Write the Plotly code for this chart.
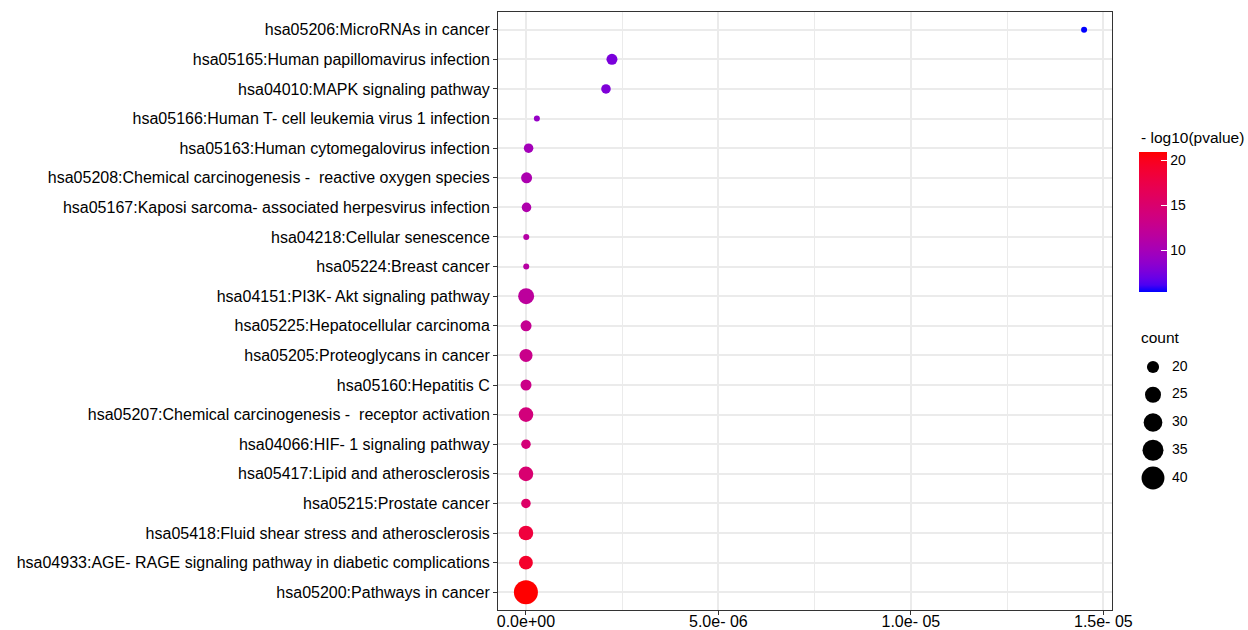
import numpy as np
import plotly.graph_objects as go

# ---------------- data ----------------
terms = [
    "hsa05206:MicroRNAs in cancer",
    "hsa05165:Human papillomavirus infection",
    "hsa04010:MAPK signaling pathway",
    "hsa05166:Human T- cell leukemia virus 1 infection",
    "hsa05163:Human cytomegalovirus infection",
    "hsa05208:Chemical carcinogenesis -  reactive oxygen species",
    "hsa05167:Kaposi sarcoma- associated herpesvirus infection",
    "hsa04218:Cellular senescence",
    "hsa05224:Breast cancer",
    "hsa04151:PI3K- Akt signaling pathway",
    "hsa05225:Hepatocellular carcinoma",
    "hsa05205:Proteoglycans in cancer",
    "hsa05160:Hepatitis C",
    "hsa05207:Chemical carcinogenesis -  receptor activation",
    "hsa04066:HIF- 1 signaling pathway",
    "hsa05417:Lipid and atherosclerosis",
    "hsa05215:Prostate cancer",
    "hsa05418:Fluid shear stress and atherosclerosis",
    "hsa04933:AGE- RAGE signaling pathway in diabetic complications",
    "hsa05200:Pathways in cancer",
]
padj = [1.45e-5, 2.235e-6, 2.08e-6, 2.85e-7, 7.0e-8, 1.8e-8, 1.6e-8, 9e-9, 8e-9, 6e-9,
        4e-9, 3e-9, 2.5e-9, 2e-9, 1.5e-9, 1e-9, 8e-10, 3e-10, 1e-10, 5e-12]
neglog10p = [5.33, 7.6, 7.8, 9.0, 9.9, 10.5, 10.7, 11.2, 11.3, 11.8,
             12.5, 13.0, 13.2, 14.0, 14.3, 14.8, 15.4, 18.2, 19.2, 20.9]
counts = [17, 19, 18, 17, 18, 19, 18, 17, 17, 25,
          19, 21, 19, 23, 18, 23, 18, 23, 22, 43]

x_tickvals = [0, 5e-6, 1e-5, 1.5e-5]
x_ticktext = ["0.0e+00", "5.0e- 06", "1.0e- 05", "1.5e- 05"]
color_ticks = [10, 15, 20]
size_breaks = [20, 25, 30, 35, 40]

# ---------------- helpers ----------------
def srgb_to_lab(rgb):
    c = np.array(rgb, float) / 255.0
    c = np.where(c <= 0.04045, c / 12.92, ((c + 0.055) / 1.055) ** 2.4)
    M = np.array([[0.4124, 0.3576, 0.1805], [0.2126, 0.7152, 0.0722], [0.0193, 0.1192, 0.9505]])
    X, Y, Z = M @ c
    X /= 0.95047; Z /= 1.08883
    f = lambda t: t ** (1 / 3) if t > 0.008856 else 7.787 * t + 16 / 116
    fx, fy, fz = f(X), f(Y), f(Z)
    return np.array([116 * fy - 16, 500 * (fx - fy), 200 * (fy - fz)])

def lab_to_srgb(lab):
    L, a, b = lab
    fy = (L + 16) / 116; fx = fy + a / 500; fz = fy - b / 200
    finv = lambda t: t ** 3 if t ** 3 > 0.008856 else (t - 16 / 116) / 7.787
    X = 0.95047 * finv(fx); Y = finv(fy); Z = 1.08883 * finv(fz)
    Minv = np.array([[3.2406, -1.5372, -0.4986], [-0.9689, 1.8758, 0.0415], [0.0557, -0.2040, 1.0570]])
    lin = Minv @ np.array([X, Y, Z])
    out = np.where(lin <= 0.0031308, 12.92 * lin, 1.055 * np.clip(lin, 0, None) ** (1 / 2.4) - 0.055)
    out = np.clip(out, 0, 1) * 255
    return "rgb(%d,%d,%d)" % tuple(np.round(out).astype(int))

lab_lo = srgb_to_lab((0, 0, 255))
lab_hi = srgb_to_lab((255, 0, 0))
colorscale = [[t, lab_to_srgb(lab_lo + (lab_hi - lab_lo) * t)] for t in np.linspace(0, 1, 21)]

cmin_c, cmax_c = min(counts), max(counts)
def diam(c):
    t = (np.asarray(c, float) - cmin_c) / (cmax_c - cmin_c)
    return 6 + 18 * np.sqrt(np.clip(t, 0, 1))

labels = [t.replace("  ", " \u00a0") for t in terms]

FONT = "Liberation Sans, Arial, Helvetica, sans-serif"
W, H = 1248, 630
panel_left, panel_right, panel_top, panel_bottom = 498, 1112, 12, 610
L_M = panel_left
T_M = panel_top
B_M = H - panel_bottom
R_M = 0
pw = W - L_M - R_M
ph = H - T_M - B_M
def px_x(p):
    return (p - L_M) / pw
def px_y(p):
    return (H - B_M - p) / ph

xmin, xmax = min(padj), max(padj)
span = xmax - xmin
x_range = [xmin - 0.05 * span, xmax + 0.05 * span]

fig = go.Figure()
fig.add_trace(go.Scatter(
    x=padj, y=labels, mode="markers",
    marker=dict(
        size=diam(counts), color=neglog10p, colorscale=colorscale,
        cmin=min(neglog10p), cmax=max(neglog10p), line=dict(width=0), opacity=1,
        showscale=True,
        colorbar=dict(
            x=px_x(1139), xanchor="left", xpad=0, ypad=0,
            y=px_y(152), yanchor="top", len=140, lenmode="pixels",
            thickness=28, thicknessmode="pixels", outlinewidth=0,
            tickvals=color_ticks, ticks="inside", ticklen=6, tickcolor="white", tickwidth=1,
            tickfont=dict(family=FONT, size=14, color="black"),
            title=dict(text=""),
        ),
    ),
    showlegend=False, hoverinfo="skip",
))

# size legend on hidden axes
fig.add_trace(go.Scatter(
    x=[14] * len(size_breaks), y=list(range(len(size_breaks))), mode="markers",
    marker=dict(size=diam(size_breaks), color="black", opacity=1, line=dict(width=0)),
    xaxis="x2", yaxis="y2", showlegend=False, hoverinfo="skip",
))
fig.add_trace(go.Scatter(
    x=[33] * len(size_breaks), y=list(range(len(size_breaks))), mode="text",
    text=[str(s) for s in size_breaks], textposition="middle right",
    textfont=dict(family=FONT, size=14, color="black"),
    xaxis="x2", yaxis="y2", showlegend=False, hoverinfo="skip",
))

grid_c = "#EBEBEB"
fig.update_layout(
    template="none",
    width=W, height=H,
    margin=dict(l=L_M, r=R_M, t=T_M, b=B_M, autoexpand=False),
    paper_bgcolor="white", plot_bgcolor="white",
    font=dict(family=FONT, size=16, color="black"),
    xaxis=dict(
        domain=[0, px_x(panel_right)], range=x_range, automargin=False,
        tickvals=x_tickvals, ticktext=x_ticktext,
        ticks="outside", ticklen=4, tickcolor="#333333", tickwidth=1,
        ticklabelstandoff=-7,
        tickfont=dict(family=FONT, size=16, color="black"),
        showgrid=True, gridcolor=grid_c, gridwidth=1.6,
        minor=dict(tick0=2.5e-6, dtick=5e-6, showgrid=True, gridcolor=grid_c, gridwidth=0.9, ticks=""),
        showline=True, mirror=True, linecolor="#333333", linewidth=1,
        zeroline=False, anchor="y",
    ),
    yaxis=dict(
        type="category", categoryorder="array", categoryarray=labels,
        range=[len(labels) - 0.4, -0.6], automargin=False,
        ticks="outside", ticklen=4, tickcolor="#333333", tickwidth=1,
        tickfont=dict(family=FONT, size=16, color="black"),
        showgrid=True, gridcolor=grid_c, gridwidth=1.6,
        showline=True, mirror=True, linecolor="#333333", linewidth=1,
        zeroline=False, anchor="x",
    ),
    xaxis2=dict(domain=[px_x(1139), px_x(1239)], range=[0, 100], visible=False, anchor="y2"),
    yaxis2=dict(domain=[px_y(490), px_y(355)], range=[4.432, -0.432], visible=False, anchor="x2"),
    annotations=[
        dict(text="- log10(pvalue)", x=px_x(1139), y=px_y(137), xref="paper", yref="paper",
             xanchor="left", yanchor="middle", showarrow=False,
             font=dict(family=FONT, size=15.5, color="black")),
        dict(text="count", x=px_x(1139), y=px_y(337), xref="paper", yref="paper",
             xanchor="left", yanchor="middle", showarrow=False,
             font=dict(family=FONT, size=15.5, color="black")),
    ],
)

fig.write_html(
    "out.html",
    config={"displayModeBar": False},
    post_script="document.body.style.margin='0px';document.body.style.overflow='hidden';",
)
